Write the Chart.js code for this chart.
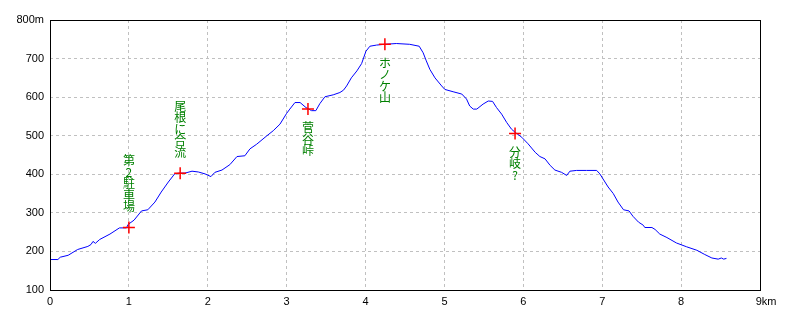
<!DOCTYPE html>
<html>
<head>
<meta charset="utf-8">
<script src="https://cdn.jsdelivr.net/npm/chart.js@4"></script>
<style>
  html, body { margin: 0; padding: 0; background: #fff; }
</style>
</head>
<body>
<canvas id="profile" width="800" height="320"></canvas>
<script>
// distance (km) / elevation (m)
const distKm = [0, 0.1, 0.13, 0.23, 0.35, 0.48, 0.52, 0.545, 0.575, 0.63,
  0.76, 0.88, 0.97, 0.99, 1.065, 1.16, 1.24, 1.33, 1.41, 1.50,
  1.58, 1.635, 1.71, 1.80, 1.88, 1.965, 2.04, 2.09, 2.18, 2.28,
  2.37, 2.47, 2.535, 2.62, 2.75, 2.83, 2.915, 3.0, 3.04, 3.105,
  3.17, 3.245, 3.315, 3.37, 3.42, 3.485, 3.59, 3.675, 3.72, 3.76,
  3.82, 3.89, 3.95, 4.005, 4.055, 4.14, 4.245, 4.39, 4.56, 4.68,
  4.73, 4.77, 4.815, 4.88, 4.965, 5.005, 5.11, 5.22, 5.28, 5.32,
  5.365, 5.41, 5.49, 5.555, 5.61, 5.66, 5.725, 5.79, 5.85, 5.895,
  5.98, 6.06, 6.15, 6.21, 6.275, 6.34, 6.40, 6.485, 6.55, 6.59,
  6.675, 6.80, 6.93, 6.97, 7.01, 7.075, 7.14, 7.20, 7.27, 7.34,
  7.39, 7.46, 7.52, 7.54, 7.63, 7.67, 7.73, 7.82, 7.94, 8.07,
  8.20, 8.30, 8.39, 8.47, 8.51, 8.54, 8.575];
const elevM = [179, 179, 185, 190, 205, 213, 218, 226, 221, 231,
  245, 261, 261, 270, 281, 305, 308, 328, 354, 380,
  401, 403, 403, 408, 406, 401, 394, 405, 411, 425,
  446, 448, 466, 478, 500, 513, 530, 558, 569, 586,
  586, 573, 565, 565, 583, 601, 606, 612, 618, 629,
  650, 668, 687, 719, 732, 735, 737, 739, 737, 732,
  715, 694, 672, 650, 629, 620, 614, 608, 595, 577,
  569, 569, 582, 590, 589, 573, 556, 534, 517, 509,
  496, 479, 457, 446, 440, 423, 411, 405, 397, 408,
  410, 410, 410, 401, 388, 367, 350, 328, 308, 305,
  291, 276, 268, 262, 262, 257, 245, 236, 222, 212,
  203, 192, 183, 180, 183, 180, 182];

// waypoints
const wpKm = [1.0, 1.65, 3.27, 4.245, 5.895];
const wpElev = [262, 403, 569, 737, 506];
const wpNames = ['第2駐車場', '尾根に合流', '菅谷峠', 'ホノケ山', '分岐?'];
const wpSide = ['above', 'above', 'below', 'below', 'below'];

// axis ticks
const xTicks = [0, 1, 2, 3, 4, 5, 6, 7, 8, 9];
const yTicks = [100, 200, 300, 400, 500, 600, 700, 800];

const tickFont = { family: 'Liberation Sans', size: 11 };

// vertical waypoint names + frame around the plot
const extras = {
  id: 'extras',
  afterDatasetsDraw(chart) {
    const ctx = chart.ctx;
    const xs = chart.scales.x, ys = chart.scales.y;
    const area = chart.chartArea;

    ctx.save();
    ctx.fillStyle = '#008000';
    ctx.font = '12px "Noto Sans CJK JP"';
    ctx.textAlign = 'center';
    ctx.textBaseline = 'middle';
    const step = 11.5;
    wpNames.forEach((name, i) => {
      const chars = Array.from(name);
      const px = xs.getPixelForValue(wpKm[i]);
      const py = ys.getPixelForValue(wpElev[i]);
      let top;
      if (wpSide[i] === 'above') {
        top = py - 15 - chars.length * step;
      } else {
        top = py + 13;
      }
      chars.forEach((c, j) => {
        ctx.fillText(c, px, top + step * j + step / 2);
      });
    });
    ctx.restore();

    ctx.save();
    ctx.strokeStyle = '#000';
    ctx.lineWidth = 1;
    ctx.strokeRect(Math.round(area.left) + 0.5, Math.round(area.top) + 0.5,
      Math.round(area.right - area.left), Math.round(area.bottom - area.top));
    ctx.restore();
  }
};

new Chart(document.getElementById('profile'), {
  type: 'line',
  data: {
    datasets: [
      {
        type: 'scatter',
        data: wpKm.map((k, i) => ({ x: k, y: wpElev[i] })),
        pointStyle: 'cross',
        pointRadius: 6,
        pointBorderColor: '#ff0000',
        pointBorderWidth: 1.5,
        showLine: false
      },
      {
        data: distKm.map((k, i) => ({ x: k, y: elevM[i] })),
        borderColor: '#0000ff',
        borderWidth: 1,
        pointRadius: 0,
        tension: 0,
        fill: false
      }
    ]
  },
  options: {
    responsive: false,
    devicePixelRatio: 1,
    animation: false,
    layout: { padding: { top: 20, right: 40, left: 0, bottom: 0 } },
    plugins: { legend: { display: false }, tooltip: { enabled: false } },
    scales: {
      x: {
        type: 'linear',
        min: 0,
        max: 9,
        afterBuildTicks: s => { s.ticks = xTicks.map(v => ({ value: v })); },
        afterFit: s => { s.height = 30; },
        ticks: {
          color: '#000',
          font: tickFont,
          padding: 5,
          maxRotation: 0,
          callback: v => v === 9 ? '    9km' : String(v)
        },
        grid: { color: '#c0c0c0', drawTicks: false },
        border: { display: false, dash: [3, 3] }
      },
      y: {
        min: 100,
        max: 800,
        afterBuildTicks: s => { s.ticks = yTicks.map(v => ({ value: v })); },
        afterFit: s => { s.width = 50; },
        ticks: {
          color: '#000',
          font: tickFont,
          padding: 6,
          callback: v => v === 800 ? '800m' : String(v)
        },
        grid: { color: '#c0c0c0', drawTicks: false },
        border: { display: false, dash: [3, 3] }
      }
    }
  },
  plugins: [extras]
});
</script>
</body>
</html>
